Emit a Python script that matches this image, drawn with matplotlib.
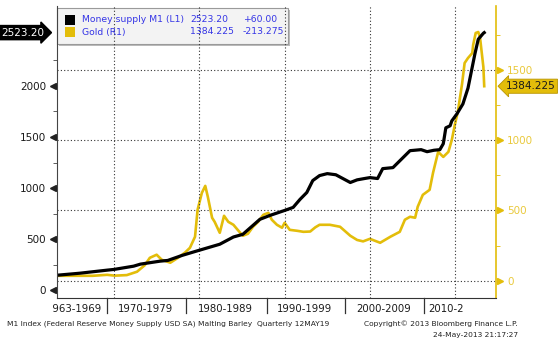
import numpy as np
import matplotlib
matplotlib.use('Agg')
import matplotlib.pyplot as plt
from matplotlib.patches import Rectangle
from matplotlib.transforms import Bbox, TransformedBbox, blended_transform_factory

# M1 money supply (left axis)
m1_year = [1963.3, 1966.0, 1969.2, 1970.0, 1972.3, 1973.1, 1975.4, 1976.3, 1978.0, 1980.0,
           1982.4, 1984.0, 1985.1, 1986.3, 1987.1, 1988.3, 1990.0, 1991.0, 1991.8, 1992.6,
           1993.3, 1994.1, 1995.0, 1996.0, 1997.7, 1998.5, 1999.5, 2000.0, 2000.9, 2001.5,
           2002.7, 2004.7, 2006.0, 2006.7, 2007.5, 2008.2, 2008.6, 2008.9, 2009.4, 2009.6,
           2010.2, 2010.9, 2011.5, 2012.3, 2012.7, 2013.3, 2013.4]
m1_value = [145, 165, 195, 202, 234, 254, 283, 290, 340, 390,
            449, 520, 546, 634, 693, 732, 780, 810, 888, 956,
            1073, 1122, 1141, 1130, 1054, 1080, 1095, 1102, 1093, 1190,
            1200, 1366, 1376, 1356, 1370, 1376, 1434, 1590, 1610, 1658,
            1727, 1824, 1980, 2312, 2458, 2517, 2523.2]

# Gold price (right axis)
gold_year = [1963.4, 1967.5, 1969.2, 1970.1, 1971.5, 1972.7, 1973.6, 1974.2, 1975.0, 1975.6,
             1976.6, 1977.5, 1978.3, 1978.9, 1979.5, 1979.8, 1980.3, 1980.7, 1981.0, 1981.5,
             1981.8, 1982.4, 1982.9, 1983.4, 1984.0, 1984.5, 1985.1, 1985.7, 1986.3, 1986.9,
             1987.5, 1988.1, 1988.5, 1989.1, 1989.7, 1990.0, 1990.6, 1991.5, 1992.2, 1993.0,
             1993.6, 1994.1, 1995.3, 1996.5, 1997.7, 1998.5, 1999.2, 2000.0, 2001.2, 2002.4,
             2003.5, 2004.1, 2004.7, 2005.3, 2005.6, 2006.2, 2007.0, 2007.4, 2008.0, 2008.6,
             2009.2, 2009.6, 2010.0, 2010.3, 2010.8, 2011.1, 2011.5, 2012.0, 2012.1, 2012.4,
             2012.7, 2012.9, 2013.3, 2013.4]
gold_value = [35, 35, 42, 36, 40, 64, 110, 163, 185, 149,
              128, 163, 199, 234, 313, 505, 625, 675, 597, 448,
              419, 341, 462, 419, 398, 362, 320, 334, 384, 419,
              469, 483, 434, 398, 377, 412, 362, 355, 348, 350,
              380, 398, 398, 384, 320, 290, 280, 298, 270, 313,
              348, 434, 455, 448, 526, 611, 647, 768, 917, 881,
              917, 1002, 1123, 1200, 1400, 1549, 1585, 1620, 1677, 1763,
              1770, 1734, 1521, 1384.225]

decade_labels = ['1963-1969', '1970-1979', '1980-1989', '1990-1999', '2000-2009', '2010-2019']
label_year = [1965.4, 1973.75, 1983.1, 1992.3, 2001.65, 2010.1]
separator_year = [1969.2, 1978.45, 1987.95, 1997.1, 2006.35]

black = '#000000'
gold = '#E3BD0A'
gold_text = '#E9C93C'
legend_blue = '#3535E6'

fig = plt.figure(figsize=(5.6, 3.45), dpi=100)
ax = fig.add_axes([57 / 560, 47 / 345, 439 / 560, 292 / 345])
ax2 = ax.twinx()
ax.set_zorder(ax2.get_zorder() + 1)
ax.patch.set_visible(False)

ax2.plot(gold_year, gold_value, color=gold, lw=1.9, solid_joinstyle='round')
ax.plot(m1_year, m1_value, color=black, lw=2.3, solid_joinstyle='round')

ax.set_xlim(1963.32, 2014.78)
ax.set_ylim(-78, 2784)
ax2.set_ylim(-123, 1955)

# grid
ax.set_xticks([1970, 1980, 1990, 2000, 2010])
ax.set_xticklabels([])
ax.tick_params(axis='x', length=0)
ax.grid(axis='x', color='#333333', ls=(0, (1, 2)), lw=0.8)
ax2.set_yticks([0, 500, 1000, 1500])
ax2.grid(axis='y', color='#333333', ls=(0, (1, 2)), lw=0.8)

# spines
for s in ['top']:
    ax.spines[s].set_visible(False)
    ax2.spines[s].set_visible(False)
ax.spines['right'].set_visible(False)
ax2.spines['left'].set_visible(False)
ax2.spines['bottom'].set_visible(False)
ax.spines['left'].set_color('#444444')
ax.spines['bottom'].set_color('#333333')
ax2.spines['right'].set_color(gold)
ax2.spines['right'].set_linewidth(1.2)

# left axis ticks
ax.set_yticks([0, 500, 1000, 1500, 2000])
ax.set_yticks([250, 750, 1250, 1750, 2250], minor=True)
ax.tick_params(axis='y', which='major', length=0, pad=8, labelsize=7.5, labelcolor='#1a1a1a')
ax.tick_params(axis='y', which='minor', length=3, color='#444444', direction='out')
tl = blended_transform_factory(ax.transAxes, ax.transData)
ax.plot([-0.008] * 5, [0, 500, 1000, 1500, 2000], marker='<', ms=4, color='#222222',
        ls='none', transform=tl, clip_on=False)

# right axis ticks
ax2.set_yticks([250, 750, 1250, 1750], minor=True)
ax2.tick_params(axis='y', which='major', length=0, pad=8, labelsize=7.5, labelcolor=gold_text)
ax2.tick_params(axis='y', which='minor', length=3, color=gold, direction='out')
tr = blended_transform_factory(ax2.transAxes, ax2.transData)
ax2.plot([1.008] * 4, [0, 500, 1000, 1500], marker='>', ms=4, color=gold,
         ls='none', transform=tr, clip_on=False)

# decade labels below the axis
tx = blended_transform_factory(ax.transData, ax.transAxes)
clip = TransformedBbox(Bbox([[-0.008, -0.3], [(464 - 57) / 439, 0]]), ax.transAxes)
for lab, yr in zip(decade_labels, label_year):
    t = ax.text(yr, -0.036, lab, transform=tx, ha='center', va='center', fontsize=7.3,
                color='#1a1a1a', clip_on=True)
    t.set_clip_box(clip)
for yr in separator_year:
    ax.plot([yr, yr], [0, -0.05], color='#333333', lw=0.9, transform=tx, clip_on=False)

# legend box
ax.add_patch(Rectangle((0.004, 0.862), 231 / 439, 36 / 292, transform=ax.transAxes,
                       facecolor='#BBBBBB', edgecolor='none', zorder=0.8, clip_on=False))
ax.add_patch(Rectangle((0.0, 0.87), 231 / 439, 36 / 292, transform=ax.transAxes,
                       facecolor='#F3F3F3', edgecolor='#9A9A9A', lw=0.8, zorder=0.9, clip_on=False))
fx = lambda px: (px - 57) / 439
fy = lambda py: (298 - py) / 292
ax.add_patch(Rectangle((fx(65), fy(25)), 10 / 439, 10 / 292, transform=ax.transAxes,
                       facecolor=black, edgecolor='none', zorder=3))
ax.add_patch(Rectangle((fx(65), fy(37)), 10 / 439, 10 / 292, transform=ax.transAxes,
                       facecolor=gold, edgecolor='none', zorder=3))
rows = [('Money supply M1 (L1)', '2523.20', '+60.00'), ('Gold (R1)', '1384.225', '-213.275')]
for i, (name, val, chg) in enumerate(rows):
    y = fy(20 + 12 * i)
    for xp, s in zip([82, 190, 243], [name, val, chg]):
        ax.text(fx(xp), y, s, transform=ax.transAxes, fontsize=6.7, color=legend_blue,
                va='center', ha='left', zorder=3)

# last value tags
ax.text(-0.03, m1_value[-1], '2523.20', transform=tl, ha='right', va='center', fontsize=7.5,
        color='white', bbox=dict(boxstyle='rarrow,pad=0.2', fc='black', ec='black'),
        clip_on=False)
ax2.text(1.022, gold_value[-1], '1384.225', transform=tr, ha='left', va='center', fontsize=7.5,
         color='#1a1a1a', bbox=dict(boxstyle='larrow,pad=0.2', fc=gold, ec='#B89400', lw=0.6),
         clip_on=False)

# footer
fig.text(7 / 560, 1 - 324 / 345, 'M1 Index (Federal Reserve Money Supply USD SA) Malting Barley  Quarterly 12MAY19',
         fontsize=5.4, color='#222222', va='center', ha='left')
fig.text(518 / 560, 1 - 324 / 345, 'Copyright\u00a9 2013 Bloomberg Finance L.P.',
         fontsize=5.4, color='#222222', va='center', ha='right')
fig.text(518 / 560, 1 - 335 / 345, '24-May-2013 21:17:27',
         fontsize=5.4, color='#222222', va='center', ha='right')

fig.savefig('out.png', dpi=100)
